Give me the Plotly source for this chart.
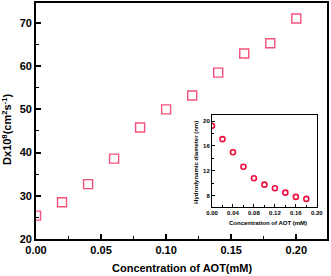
import plotly.graph_objects as go

# Main data: diffusion coefficient vs AOT concentration
conc_main = [0.00, 0.02, 0.04, 0.06, 0.08, 0.10, 0.12, 0.14, 0.16, 0.18, 0.20]
dx_values = [25.4, 28.5, 32.7, 38.6, 45.8, 50.0, 53.2, 58.5, 62.9, 65.3, 71.0]

# Inset data: hydrodynamic diameter vs AOT concentration
conc_inset = [0.00, 0.02, 0.04, 0.06, 0.08, 0.10, 0.12, 0.14, 0.16, 0.18]
diam_values = [19.25, 17.1, 15.0, 12.65, 10.8, 9.76, 9.18, 8.47, 7.78, 7.46]

main_xticks = [0.00, 0.05, 0.10, 0.15, 0.20]
main_xticklabels = ["0.00", "0.05", "0.10", "0.15", "0.20"]
main_yticks = [20, 30, 40, 50, 60, 70]
inset_xticks = [0.00, 0.04, 0.08, 0.12, 0.16, 0.20]
inset_xticklabels = ["0.00", "0.04", "0.08", "0.12", "0.16", "0.20"]
inset_yticks = [8, 12, 16, 20]

FONT = "Liberation Sans, Arial, sans-serif"

fig = go.Figure()

fig.add_trace(go.Scatter(
    x=conc_main, y=dx_values, mode="markers",
    marker=dict(symbol="square-open", size=9, color="#f5507a",
                line=dict(width=1.4, color="#f5507a")),
    xaxis="x", yaxis="y", showlegend=False,
))

fig.add_trace(go.Scatter(
    x=conc_inset, y=diam_values, mode="markers",
    marker=dict(symbol="circle-open", size=5, color="#f01040",
                line=dict(width=1.6, color="#f01040")),
    xaxis="x2", yaxis="y2", showlegend=False,
))

axis_common = dict(showgrid=False, zeroline=False, showline=True,
                   linecolor="black", mirror=True, ticks="inside",
                   tickcolor="black", automargin=False)

fig.update_layout(
    width=331, height=276,
    margin=dict(l=36, r=4.3, t=3, b=37, autoexpand=False),
    paper_bgcolor="white", plot_bgcolor="white",
    font=dict(family=FONT, color="black"),
    xaxis=dict(
        **axis_common, range=[0, 0.2236], linewidth=1.8,
        tickvals=main_xticks, ticktext=main_xticklabels,
        ticklen=5, tickwidth=1.5,
        minor=dict(dtick=0.025, tick0=0, ticks="inside", ticklen=3,
                   tickwidth=1.2, tickcolor="black"),
        tickfont=dict(size=11, family=FONT, weight="bold"),
    ),
    yaxis=dict(
        **axis_common, range=[20, 74.6], linewidth=1.8,
        tickvals=main_yticks,
        ticklen=5, tickwidth=1.5,
        minor=dict(dtick=5, tick0=0, ticks="inside", ticklen=3,
                   tickwidth=1.2, tickcolor="black"),
        tickfont=dict(size=11, family=FONT, weight="bold"),
    ),
    xaxis2=dict(
        **axis_common, anchor="y2", domain=[0.6048, 0.9656],
        range=[0, 0.2003], linewidth=1.1,
        tickvals=inset_xticks, ticktext=inset_xticklabels,
        ticklen=3, tickwidth=1,
        minor=dict(dtick=0.02, tick0=0, ticks="inside", ticklen=2,
                   tickwidth=0.8, tickcolor="black"),
        tickfont=dict(size=6, family=FONT, weight="bold"),
    ),
    yaxis2=dict(
        **axis_common, anchor="x2", domain=[0.1369, 0.5254],
        range=[6.2, 21], linewidth=1.1,
        tickvals=inset_yticks,
        ticklen=3, tickwidth=1,
        minor=dict(dtick=2, tick0=0, ticks="inside", ticklen=2,
                   tickwidth=0.8, tickcolor="black"),
        tickfont=dict(size=6, family=FONT, weight="bold"),
    ),
    shapes=[dict(type="rect", xref="x2 domain", yref="y2 domain",
                 x0=0, x1=1, y0=0, y1=1, fillcolor="white",
                 line=dict(width=0), layer="below")],
    annotations=[
        dict(text="<b>Concentration of AOT(mM)</b>", xref="paper", yref="paper",
             x=0.5, y=-0.122, xanchor="center", yanchor="middle",
             showarrow=False, font=dict(size=11, family=FONT)),
        dict(text="<b>Dx10<sup>8</sup>(cm<sup>2</sup>s<sup>-1</sup>)</b>",
             xref="paper", yref="paper", x=-0.1, y=0.466,
             xanchor="center", yanchor="middle", textangle=-90,
             showarrow=False, font=dict(size=11, family=FONT)),
        dict(text="<b>Concentration of AOT (mM)</b>", xref="x2 domain",
             yref="y2 domain", x=0.53, y=-0.18, xanchor="center",
             yanchor="middle", showarrow=False,
             font=dict(size=6, family=FONT)),
        dict(text="<b>Hydrodynamic diameter (nm)</b>", xref="x2 domain",
             yref="y2 domain", x=-0.16, y=0.48, xanchor="center",
             yanchor="middle", textangle=-90, showarrow=False,
             font=dict(size=6, family=FONT)),
    ],
)

fig.write_html(
    "out.html",
    config={"displayModeBar": False},
    post_script="document.body.style.margin='0';document.body.style.padding='0';",
)
